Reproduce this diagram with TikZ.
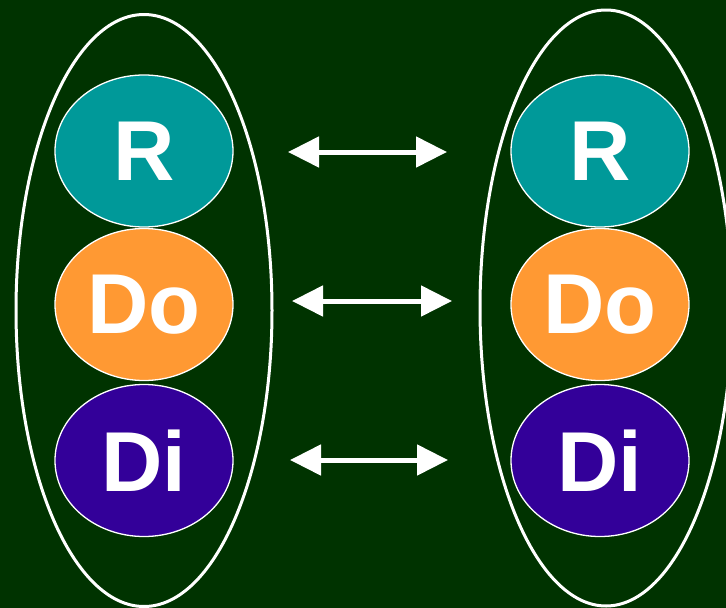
\documentclass[tikz,border=0pt]{standalone}
\usepackage{fontspec}
\setmainfont{Liberation Sans}
\usetikzlibrary{arrows.meta,shapes.geometric}
\definecolor{bg}{HTML}{003300}
\definecolor{tealc}{HTML}{009999}
\definecolor{orangec}{HTML}{FF9933}
\definecolor{purplec}{HTML}{330099}
\begin{document}
\begin{tikzpicture}[x=1pt,y=-1pt,
  bubble/.style={draw=white,line width=1.3pt,ellipse,minimum width=178pt,minimum height=152pt,inner sep=0pt,text=white,font=\fontsize{85}{85}\selectfont\bfseries},
  outerring/.style={draw=white,line width=3pt},
  dbl/.style={draw=white,line width=5pt,{Triangle[length=31pt,width=30pt]}-{Triangle[length=31pt,width=30pt]}}]
\fill[bg] (0,0) rectangle (726,608);
\useasboundingbox (0,0) rectangle (726,608);
\draw[outerring] (144,310.5) ellipse [x radius=128, y radius=296];
\draw[outerring] (606,308) ellipse [x radius=126, y radius=298];
\node[bubble,fill=tealc] (r1) at (144,151) {R};
\node[bubble,fill=orangec] (d1) at (144,304.5) {Do};
\node[bubble,fill=purplec] (i1) at (144,460.5) {Di};
\node[bubble,fill=tealc] (r2) at (600,151) {R};
\node[bubble,fill=orangec] (d2) at (600,304.5) {Do};
\node[bubble,fill=purplec] (i2) at (600,460.5) {Di};
\coordinate (a1) at (288,152); \coordinate (b1) at (447,152);
\coordinate (a2) at (292,301); \coordinate (b2) at (452,301);
\coordinate (a3) at (290,460); \coordinate (b3) at (448,460);
\draw[dbl] (a1) -- (b1);
\draw[dbl] (a2) -- (b2);
\draw[dbl] (a3) -- (b3);
\end{tikzpicture}
\end{document}
